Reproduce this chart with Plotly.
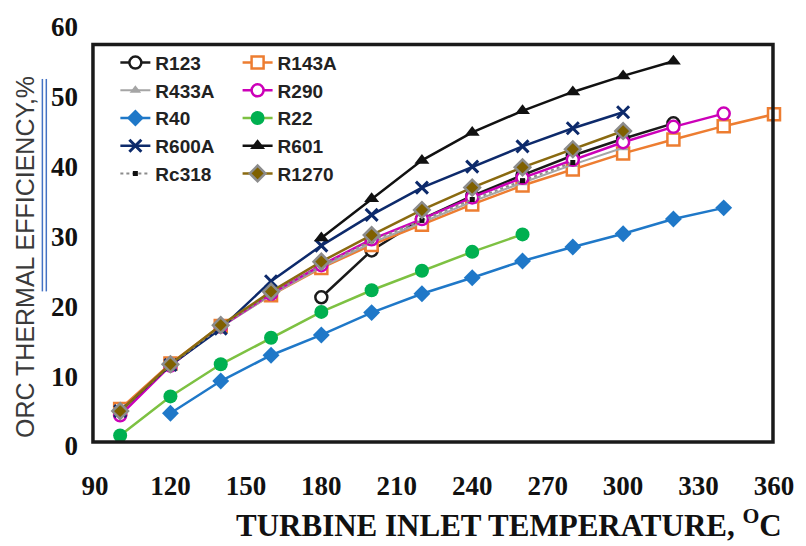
import plotly.graph_objects as go

# Turbine inlet temperature grid (deg C)
temps = [100, 120, 140, 160, 180, 200, 220, 240, 260, 280, 300, 320, 340, 360]

# ORC thermal efficiency (%) per working fluid, with the temperature span of each
r123_t = [180, 200, 220, 240, 260, 280, 300, 320]
r123 = [21.3, 28.0, 32.5, 35.8, 38.8, 41.6, 44.0, 46.2]

r143a_t = temps
r143a = [5.3, 11.8, 17.2, 21.6, 25.5, 28.8, 31.7, 34.6, 37.3, 39.6, 41.9, 43.9, 45.8, 47.5]

r433a_t = temps[:11]
r433a = [4.9, 11.5, 17.0, 21.6, 25.6, 29.1, 32.0, 35.0, 37.7, 40.3, 42.7]

r290_t = temps[:13]
r290 = [4.4, 11.5, 17.1, 21.8, 25.9, 29.6, 32.5, 35.6, 38.4, 41.0, 43.5, 45.7, 47.6]

r40_t = temps[1:13]
r40 = [4.7, 9.3, 13.0, 15.9, 19.1, 21.8, 24.1, 26.5, 28.5, 30.4, 32.5, 34.1]

r22_t = temps[:9]
r22 = [1.5, 7.1, 11.7, 15.5, 19.2, 22.3, 25.1, 27.8, 30.3]

r600a_t = temps[:11]
r600a = [5.0, 11.6, 16.8, 23.6, 28.7, 33.1, 37.0, 40.0, 42.9, 45.5, 47.8]

r601_t = [180, 200, 220, 240, 260, 280, 300, 320]
r601 = [29.8, 35.4, 40.9, 44.9, 48.0, 50.7, 53.0, 55.1]

rc318_t = temps[:10]
rc318 = [5.0, 11.6, 17.1, 21.8, 25.8, 29.4, 32.3, 35.3, 38.0, 40.6]

r1270_t = temps[:11]
r1270 = [5.0, 11.7, 17.3, 22.1, 26.4, 30.2, 33.8, 37.0, 39.9, 42.5, 45.1]

x_ticks = [90, 120, 150, 180, 210, 240, 270, 300, 330, 360]
y_ticks = [0, 10, 20, 30, 40, 50, 60]

fig = go.Figure()


def add(name, xs, ys, line, marker, legend):
    fig.add_trace(go.Scatter(
        x=xs, y=ys, name=name, mode="lines+markers",
        line=line, marker=marker, cliponaxis=False,
        legend=legend, legendgroup=name,
    ))


add("R123", r123_t, r123, dict(color="#1a1a1a", width=2.5),
    dict(symbol="circle", size=12, color="white", line=dict(color="#1a1a1a", width=2.5)), "legend")
add("R143A", r143a_t, r143a, dict(color="#ED7D31", width=2.5),
    dict(symbol="square", size=12, color="white", line=dict(color="#ED7D31", width=2.5)), "legend2")
add("R433A", r433a_t, r433a, dict(color="#A5A5A5", width=2),
    dict(symbol="triangle-up", size=10, color="#A5A5A5"), "legend")
add("R290", r290_t, r290, dict(color="#CC00B8", width=2.5),
    dict(symbol="circle", size=12, color="white", line=dict(color="#CC00B8", width=2.5)), "legend2")
add("R40", r40_t, r40, dict(color="#1F78C8", width=2.5),
    dict(symbol="diamond", size=13, color="#1F78C8"), "legend")
add("R22", r22_t, r22, dict(color="#7DC142", width=2.5),
    dict(symbol="circle", size=14, color="#00B050"), "legend2")
add("R600A", r600a_t, r600a, dict(color="#0D2A6B", width=2.5),
    dict(symbol="x-thin", size=12, color="#0D2A6B", line=dict(color="#0D2A6B", width=3)), "legend")
add("R601", r601_t, r601, dict(color="#111111", width=2.5),
    dict(symbol="triangle-up", size=13, color="#111111"), "legend2")
add("Rc318", rc318_t, rc318, dict(color="#8C8C8C", width=2, dash="dot"),
    dict(symbol="square", size=5, color="#111111"), "legend")
add("R1270", r1270_t, r1270, dict(color="#8A6A10", width=2.5),
    dict(symbol="diamond", size=12, color="#7F6000", line=dict(color="#8C8C8C", width=2.5)), "legend2")

tick_font = dict(family="Liberation Serif", size=27, color="#111111", weight="bold")
legend_font = dict(family="Liberation Sans", size=19, color="#222222", weight="bold")

fig.update_layout(
    width=806, height=546,
    margin=dict(l=95, r=28, t=18, b=100),
    paper_bgcolor="white", plot_bgcolor="white",
    showlegend=True,
    xaxis=dict(range=[90, 360], tickvals=x_ticks, ticktext=[str(v) for v in x_ticks],
               showgrid=False, zeroline=False, showline=False, ticks="",
               tickfont=tick_font, ticklabelstandoff=21),
    yaxis=dict(range=[0, 60], tickvals=y_ticks, ticktext=[str(v) for v in y_ticks],
               showgrid=False, zeroline=False, showline=False, ticks="",
               tickfont=tick_font, ticklabelstandoff=16),
    legend=dict(x=0.03, y=0.96, xanchor="left", yanchor="top", bgcolor="rgba(0,0,0,0)",
                font=legend_font, tracegroupgap=0, itemwidth=30),
    legend2=dict(x=0.21, y=0.96, xanchor="left", yanchor="top", bgcolor="rgba(0,0,0,0)",
                 font=legend_font, tracegroupgap=0, itemwidth=30),
)

# Plot-area frame
fig.add_shape(type="rect", xref="paper", yref="paper",
              x0=-0.003, x1=0.9985, y0=0.0093, y1=0.958,
              line=dict(color="#1a1a1a", width=3.5), layer="above")

# Axis titles
fig.add_annotation(text="TURBINE INLET TEMPERATURE, <sup>O</sup>C",
                   xref="paper", yref="paper", x=1.015, y=-0.185,
                   xanchor="right", yanchor="middle", showarrow=False,
                   font=dict(family="Liberation Serif", size=31, color="#111111", weight="bold"))
fig.add_annotation(text="ORC THERMAL EFFICIENCY,%",
                   xref="paper", yref="paper", x=-0.104, y=0.452,
                   xanchor="center", yanchor="middle", showarrow=False, textangle=-90,
                   font=dict(family="Liberation Sans", size=25, color="#3a3a3a"))

# Double underline beneath part of the y-axis title
for xu in (-0.0775, -0.0717):
    fig.add_shape(type="line", xref="paper", yref="paper",
                  x0=xu, x1=xu, y0=0.369, y1=0.876,
                  line=dict(color="#4472C4", width=1.5))

fig.write_html("out.html")
